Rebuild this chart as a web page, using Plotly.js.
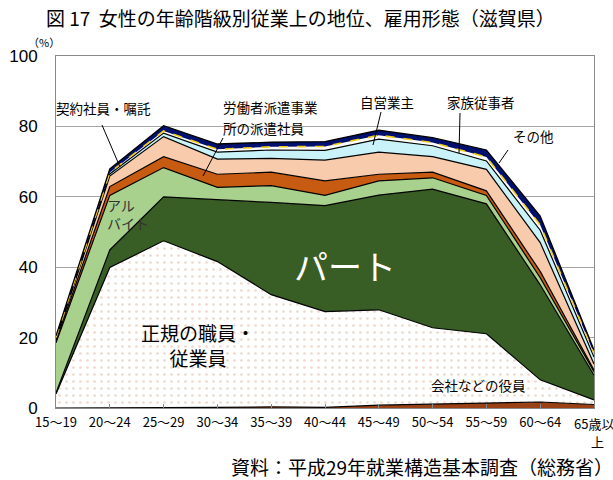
<!DOCTYPE html>
<html>
<head>
<meta charset="utf-8">
<script src="https://cdn.plot.ly/plotly-3.0.1.min.js"></script>
<style>html,body{margin:0;padding:0;background:#fff;}#chart{width:613px;height:480px;}</style>
</head>
<body>
<div id="chart"></div>
<script>
// Categories (age groups)
const categories = ['15～19','20～24','25～29','30～34','35～39','40～44','45～49','50～54','55～59','60～64','65歳以上'];
// Series values (% of women in each age group), bottom to top
const yakuin   = [0.0, 0.0, 0.1, 0.2, 0.3, 0.2, 0.8, 1.1, 1.5, 1.7, 1.0];   // 会社などの役員
const seiki    = [4.0, 39.9, 47.4, 41.4, 31.9, 27.2, 27.1, 21.7, 19.6, 6.3, 1.3]; // 正規の職員・従業員
const part     = [0.3, 5.0, 12.5, 17.7, 26.2, 30.1, 32.6, 39.4, 36.9, 27.0, 7.0]; // パート
const arubaito = [14.2, 15.5, 8.3, 3.4, 4.8, 2.9, 4.0, 3.2, 2.4, 2.0, 1.0];  // アルバイト
const haken    = [0.5, 2.5, 3.1, 3.7, 3.8, 4.1, 1.9, 1.6, 1.3, 1.8, 0.5];    // 労働者派遣事業所の派遣社員
const keiyaku  = [0.5, 3.0, 5.7, 4.3, 3.9, 5.9, 6.3, 4.4, 6.1, 8.2, 1.7];    // 契約社員・嘱託
const jiei     = [0.3, 0.6, 1.0, 2.0, 2.4, 2.8, 3.7, 3.1, 2.4, 3.5, 2.0];    // 自営業主
const kazoku   = [0.2, 0.4, 0.6, 0.8, 0.9, 1.1, 1.1, 0.9, 1.1, 1.5, 1.0];    // 家族従事者
const sonota   = [0.5, 1.0, 1.5, 1.5, 1.3, 1.4, 1.4, 1.4, 2.0, 2.5, 1.0];    // その他
const yTicks = [0, 20, 40, 60, 80, 100];

const xIdx = categories.map((c, i) => i);
const lastI = categories.length - 1;
const FONT = '"Noto Sans CJK JP", "Noto Sans", sans-serif';

function layer(name, vals, fill, lineColor, lineWidth, dash, pattern) {
  const t = {
    type: 'scatter', mode: 'lines', name: name,
    x: xIdx, y: vals, stackgroup: 'one',
    fillcolor: fill,
    line: {color: lineColor, width: lineWidth, dash: dash || 'solid', shape: 'linear'},
    hoverinfo: 'skip', showlegend: false
  };
  if (pattern) t.fillpattern = pattern;
  return t;
}

const traces = [
  layer('会社などの役員', yakuin, '#9a4216', '#000000', 1.2),
  layer('正規の職員・従業員', seiki, '#ffffff', '#000000', 1.2, null,
        {shape: '.', bgcolor: '#ffffff', fgcolor: '#efd8ca', size: 7, solidity: 0.12}),
  layer('パート', part, '#385d25', '#000000', 1.2),
  layer('アルバイト', arubaito, '#a9d18e', '#000000', 1.2),
  layer('労働者派遣事業所の派遣社員', haken, '#c75b12', '#000000', 1.2),
  layer('契約社員・嘱託', keiyaku, '#f8cbad', '#000000', 1.2),
  layer('自営業主', jiei, '#c9f3f8', '#000000', 1.2),
  layer('家族従事者', kazoku, '#ffffff', '#f0cc1a', 1.6, 'dash'),
  layer('その他', sonota, '#00106e', '#000000', 1.3)
];

// pixel -> data helpers for placing labels (plot area: x 56..594, y 56..408)
const PX0 = 56, PX1 = 594, PY0 = 408, PY1 = 56;
const dx = px => (px - PX0) / (PX1 - PX0) * lastI;
const dy = py => (PY0 - py) / (PY0 - PY1) * 100;

function lab(text, px, py, size, color, xanchor, align) {
  return {text: text, x: dx(px), y: dy(py), xref: 'x', yref: 'y', showarrow: false,
          xanchor: xanchor || 'center', yanchor: 'middle', align: align || 'center',
          font: {family: FONT, size: size, color: color || '#000'}};
}
function plab(text, px, py, size, xanchor) {
  return {text: text, x: (px - PX0) / (PX1 - PX0), y: (PY0 - py) / (PY0 - PY1),
          xref: 'paper', yref: 'paper', showarrow: false, xanchor: xanchor || 'center', yanchor: 'middle',
          font: {family: FONT, size: size, color: '#000'}};
}

// last category label wraps in the reference: "65歳以" / "上"
const lastLabel = categories[lastI];
const annotations = [
  lab('契約社員・嘱託', 103, 108, 13.5),
  lab('労働者派遣事業', 221, 107, 13.5, '#000', 'left'),
  lab('所の派遣社員', 221, 128, 13.5, '#000', 'left'),
  lab('自営業主', 387, 102, 13.5),
  lab('家族従事者', 481, 102, 13.5),
  lab('その他', 533, 136, 13.5),
  lab('アル<br>バイト', 105, 214, 14, '#333', 'left', 'left'),
  lab('パート', 345, 265, 34, '#ffffff'),
  lab('正規の職員・<br>従業員', 198, 345, 19),
  lab('会社などの役員', 478, 385, 13.5),
  plab('（%）', 44, 42, 11),
  plab('資料：平成29年就業構造基本調査（総務省）', 422, 467, 19),
  plab(lastLabel.slice(0, -1), 594, 423, 13),
  plab(lastLabel.slice(-1), 597, 441, 13)
];

function seg(px0, py0, px1, py1) {
  return {type: 'line', xref: 'x', yref: 'y', x0: dx(px0), y0: dy(py0), x1: dx(px1), y1: dy(py1),
          line: {color: '#000', width: 1}};
}
const shapes = [
  seg(102, 125, 120, 167),
  seg(223, 138, 203, 176),
  seg(381, 112, 373, 145),
  seg(460, 113, 459, 153),
  seg(508, 150, 499, 163)
];

const layout = {
  width: 613, height: 480,
  margin: {l: PX0, r: 613 - PX1, t: PY1, b: 480 - PY0, pad: 0},
  paper_bgcolor: '#ffffff', plot_bgcolor: '#ffffff',
  showlegend: false,
  title: {text: '図 17  女性の年齢階級別従業上の地位、雇用形態（滋賀県）',
          x: 0.49, xanchor: 'center', y: 0.96, yanchor: 'middle',
          font: {family: FONT, size: 19, color: '#000'}},
  xaxis: {
    range: [0, lastI], tickmode: 'array', tickvals: xIdx,
    ticktext: categories.map((c, i) => i === lastI ? '' : c),
    ticks: 'inside', ticklen: 4, tickcolor: '#888', showgrid: false, zeroline: false,
    showline: true, linecolor: '#888', linewidth: 1, mirror: true, ticklabeloverflow: 'allow',
    tickfont: {family: FONT, size: 13, color: '#000'}, ticklabelstandoff: 2, fixedrange: true
  },
  yaxis: {
    range: [0, 100], tickmode: 'array', tickvals: yTicks, ticktext: yTicks.map(String),
    showgrid: true, gridcolor: '#a6a6a6', gridwidth: 1, zeroline: false,
    showline: true, linecolor: '#888', linewidth: 1, mirror: true, ticks: '',
    tickfont: {family: '"Liberation Sans", Arial, sans-serif', size: 17, color: '#000'},
    ticklabelstandoff: 14, fixedrange: true
  },
  annotations: annotations,
  shapes: shapes
};

Plotly.newPlot('chart', traces, layout, {staticPlot: true, displayModeBar: false});
</script>
</body>
</html>
